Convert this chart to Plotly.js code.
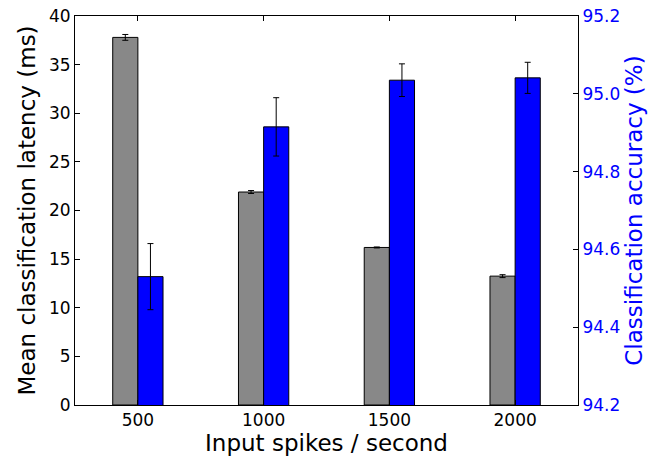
<!DOCTYPE html>
<html><head><meta charset="utf-8">
<script src="https://cdn.plot.ly/plotly-3.0.1.min.js"></script>
<style>html,body{margin:0;padding:0;background:#fff}#chart{width:662px;height:459px}</style>
</head><body><div id="chart"></div>
<script>
const spikeRates = [500, 1000, 1500, 2000];
const latency = [37.8, 21.9, 16.2, 13.25];
const latencyErr = [0.3, 0.15, 0.05, 0.15];
const accuracy = [94.53, 94.915, 95.035, 95.041];
const accuracyErr = [0.085, 0.075, 0.042, 0.04];
const leftTicks = [0, 5, 10, 15, 20, 25, 30, 35, 40];
const rightTicks = [94.2, 94.4, 94.6, 94.8, 95.0, 95.2];

const font = "DejaVu Sans, sans-serif";
const traces = [
  {type:'bar', x: spikeRates, y: latency, yaxis:'y', width:100, offset:-100,
   marker:{color:'#888888', line:{color:'#000', width:1}},
   error_y:{type:'data', array: latencyErr, visible:true, color:'#000', thickness:1, width:3}},
  {type:'bar', x: spikeRates, y: accuracy, yaxis:'y2', width:100, offset:0,
   marker:{color:'#0000ff', line:{color:'#000', width:1}},
   error_y:{type:'data', array: accuracyErr, visible:true, color:'#000', thickness:1, width:3}}
];

const layout = {
  width:662, height:459, showlegend:false,
  paper_bgcolor:'#fff', plot_bgcolor:'#fff',
  margin:{l:75, r:84, t:16, b:54},
  font:{family:font, color:'#000', size:18},
  xaxis:{range:[250,2250], tickvals:spikeRates, ticktext:spikeRates.map(String),
    ticks:'inside', ticklen:5, tickcolor:'#000', showline:true, linecolor:'#000', linewidth:1,
    mirror:'ticks', showgrid:false, zeroline:false,
    tickfont:{size:17, family:font},
    title:{text:'Input spikes / second', font:{size:23, family:font}, standoff:4}},
  yaxis:{range:[0,40], tickvals:leftTicks, ticks:'inside', ticklen:5, tickcolor:'#000',
    showline:true, linecolor:'#000', linewidth:1, showgrid:false, zeroline:false,
    tickfont:{size:17, family:font},
    title:{text:'Mean classification latency (ms)', font:{size:23, family:font}, standoff:6}},
  yaxis2:{overlaying:'y', side:'right', range:[94.2,95.2],
    tickvals: rightTicks, ticktext: rightTicks.map(v => v.toFixed(1)),
    ticks:'inside', ticklen:5, tickcolor:'#000',
    showline:true, linecolor:'#000', linewidth:1, showgrid:false, zeroline:false,
    tickfont:{size:17, family:font, color:'#0000ff'},
    title:{text:'Classification accuracy (%)', font:{size:23, family:font, color:'#0000ff'}, standoff:6}}
};
Plotly.newPlot('chart', traces, layout, {displayModeBar:false, staticPlot:true});
</script></body></html>
